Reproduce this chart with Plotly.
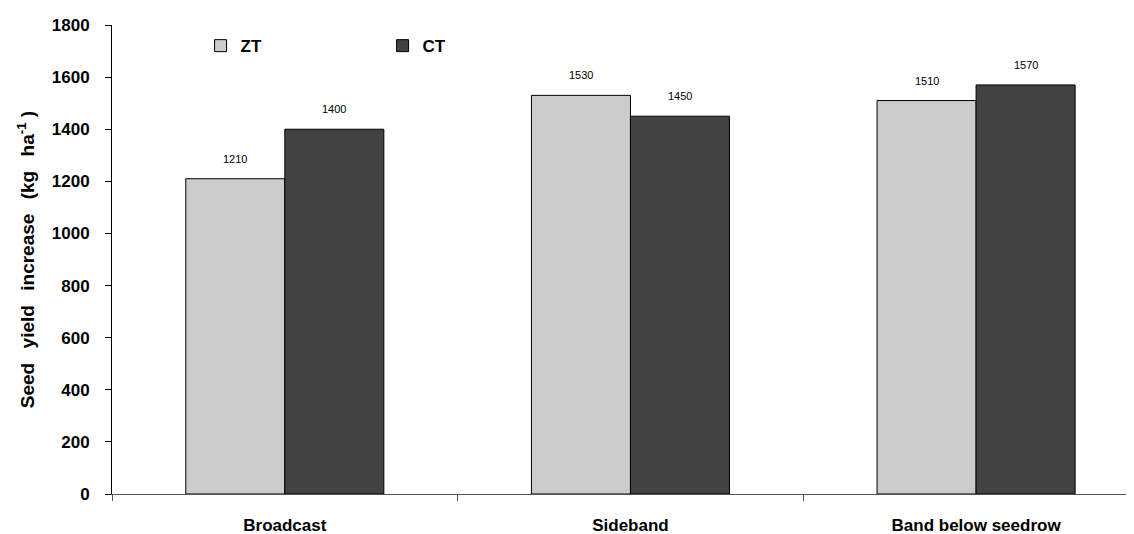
import plotly.graph_objects as go

categories = ["Broadcast", "Sideband", "Band below seedrow"]
series_names = ["ZT", "CT"]
zt_values = [1210, 1530, 1510]
ct_values = [1400, 1450, 1570]
y_ticks = [0, 200, 400, 600, 800, 1000, 1200, 1400, 1600, 1800]

colors = {"ZT": "#cccccc", "CT": "#424242"}
values = {"ZT": zt_values, "CT": ct_values}

fig = go.Figure()
for name in series_names:
    fig.add_trace(go.Bar(
        x=categories, y=values[name], name=name,
        marker=dict(color=colors[name], line=dict(color="#000000", width=1)),
    ))

# value labels above each bar
bar_px = 99
for i, name in enumerate(series_names):
    shift = -bar_px / 2 if i == 0 else bar_px / 2
    for c, v in zip(categories, values[name]):
        fig.add_annotation(x=c, y=v, text=str(v), showarrow=False,
                           xshift=shift, yshift=20,
                           font=dict(family="Arial, Liberation Sans", size=11, color="#000000"))

font_fam = "Arial, Liberation Sans, Helvetica, sans-serif"
sp = "&nbsp;&nbsp;\u2009"
y_title = f"Seed{sp}yield{sp}increase{sp}(kg{sp}ha<sup>-1</sup>&nbsp;)"

fig.update_layout(
    width=1134, height=534,
    margin=dict(l=104, r=0, t=17, b=48),
    paper_bgcolor="#ffffff", plot_bgcolor="#ffffff",
    barmode="group", bargap=0.427, bargroupgap=0,
    showlegend=True,
    legend=dict(orientation="h", x=0.086, y=0.955, xanchor="left", yanchor="middle",
                entrywidth=137, entrywidthmode="pixels",
                font=dict(family=font_fam, size=17, color="#000000", weight="bold"),
                bgcolor="rgba(0,0,0,0)", traceorder="normal"),
    font=dict(family=font_fam, color="#000000"),
)
fig.update_xaxes(
    range=[-0.5, 2.48], showgrid=False, showline=True, linecolor="#555555", linewidth=1,
    ticks="outside", tickson="boundaries", ticklen=6, tickcolor="#555555",
    ticklabelstandoff=16,
    tickfont=dict(family=font_fam, size=17, color="#000000", weight="bold"),
)
fig.update_yaxes(
    range=[0, 1800], tickvals=y_ticks, showgrid=False, zeroline=False,
    showline=True, linecolor="#000000", linewidth=1,
    ticks="outside", ticklen=6, tickcolor="#000000", ticklabelstandoff=12,
    tickfont=dict(family=font_fam, size=17, color="#000000", weight="bold"),
    title=dict(text=y_title, standoff=12,
               font=dict(family=font_fam, size=19, color="#000000", weight="bold")),
)

fig.write_html("out.html")
